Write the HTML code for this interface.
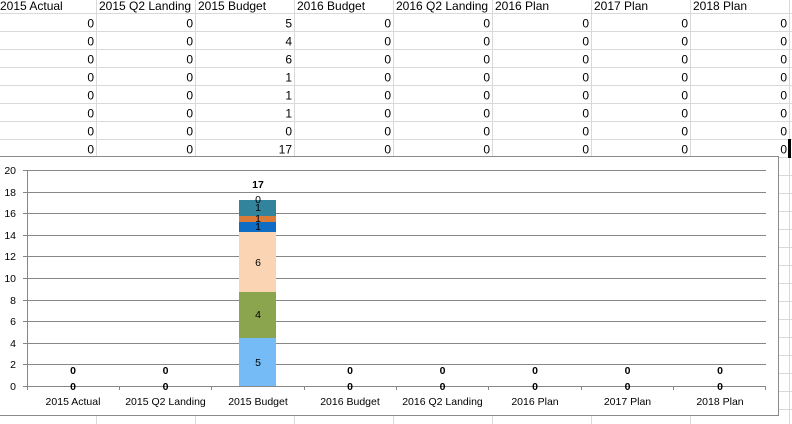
<!DOCTYPE html>
<html><head><meta charset="utf-8"><style>
html,body{margin:0;padding:0;background:#fff;}
svg{display:block;}
text{font-family:"Liberation Sans",Arial,sans-serif;}
</style></head><body>
<svg width="792" height="424" viewBox="0 0 792 424" xmlns="http://www.w3.org/2000/svg">
<rect width="792" height="424" fill="#fff"/>
<!-- sheet gridlines -->
<g stroke="#d9d9d9" stroke-width="1" shape-rendering="crispEdges">
<line x1="0" y1="13.5" x2="792" y2="13.5"/>
<line x1="0" y1="31.5" x2="792" y2="31.5"/>
<line x1="0" y1="49.5" x2="792" y2="49.5"/>
<line x1="0" y1="67.5" x2="792" y2="67.5"/>
<line x1="0" y1="85.5" x2="792" y2="85.5"/>
<line x1="0" y1="103.5" x2="792" y2="103.5"/>
<line x1="0" y1="121.5" x2="792" y2="121.5"/>
<line x1="0" y1="139.5" x2="792" y2="139.5"/>
<line x1="0" y1="157.5" x2="792" y2="157.5"/>
<line x1="0" y1="175.5" x2="792" y2="175.5"/>
<line x1="0" y1="193.5" x2="792" y2="193.5"/>
<line x1="0" y1="211.5" x2="792" y2="211.5"/>
<line x1="0" y1="229.5" x2="792" y2="229.5"/>
<line x1="0" y1="247.5" x2="792" y2="247.5"/>
<line x1="0" y1="265.5" x2="792" y2="265.5"/>
<line x1="0" y1="283.5" x2="792" y2="283.5"/>
<line x1="0" y1="301.5" x2="792" y2="301.5"/>
<line x1="0" y1="319.5" x2="792" y2="319.5"/>
<line x1="0" y1="337.5" x2="792" y2="337.5"/>
<line x1="0" y1="355.5" x2="792" y2="355.5"/>
<line x1="0" y1="373.5" x2="792" y2="373.5"/>
<line x1="0" y1="391.5" x2="792" y2="391.5"/>
<line x1="0" y1="409.5" x2="792" y2="409.5"/>
<line x1="96.5" y1="0" x2="96.5" y2="424"/>
<line x1="195.5" y1="0" x2="195.5" y2="424"/>
<line x1="294.5" y1="0" x2="294.5" y2="424"/>
<line x1="393.5" y1="0" x2="393.5" y2="424"/>
<line x1="492.5" y1="0" x2="492.5" y2="424"/>
<line x1="591.5" y1="0" x2="591.5" y2="424"/>
<line x1="690.5" y1="0" x2="690.5" y2="424"/>
<line x1="789.5" y1="0" x2="789.5" y2="424"/>
</g>
<!-- header -->
<g font-size="12" fill="#000">
<text x="0" y="10">2015 Actual</text>
<text x="99" y="10">2015 Q2 Landing</text>
<text x="198" y="10">2015 Budget</text>
<text x="297" y="10">2016 Budget</text>
<text x="396" y="10">2016 Q2 Landing</text>
<text x="495" y="10">2016 Plan</text>
<text x="594" y="10">2017 Plan</text>
<text x="693" y="10">2018 Plan</text>
</g>
<!-- numbers -->
<g font-size="12" fill="#000" text-anchor="end">
<g id="r1"><text x="94" y="27.5">0</text><text x="193" y="27.5">0</text><text x="292" y="27.5">5</text><text x="391" y="27.5">0</text><text x="490" y="27.5">0</text><text x="589" y="27.5">0</text><text x="688" y="27.5">0</text><text x="787" y="27.5">0</text></g>
<g transform="translate(0,18)"><text x="94" y="27.5">0</text><text x="193" y="27.5">0</text><text x="292" y="27.5">4</text><text x="391" y="27.5">0</text><text x="490" y="27.5">0</text><text x="589" y="27.5">0</text><text x="688" y="27.5">0</text><text x="787" y="27.5">0</text></g>
<g transform="translate(0,36)"><text x="94" y="27.5">0</text><text x="193" y="27.5">0</text><text x="292" y="27.5">6</text><text x="391" y="27.5">0</text><text x="490" y="27.5">0</text><text x="589" y="27.5">0</text><text x="688" y="27.5">0</text><text x="787" y="27.5">0</text></g>
<g transform="translate(0,54)"><text x="94" y="27.5">0</text><text x="193" y="27.5">0</text><text x="292" y="27.5">1</text><text x="391" y="27.5">0</text><text x="490" y="27.5">0</text><text x="589" y="27.5">0</text><text x="688" y="27.5">0</text><text x="787" y="27.5">0</text></g>
<g transform="translate(0,72)"><text x="94" y="27.5">0</text><text x="193" y="27.5">0</text><text x="292" y="27.5">1</text><text x="391" y="27.5">0</text><text x="490" y="27.5">0</text><text x="589" y="27.5">0</text><text x="688" y="27.5">0</text><text x="787" y="27.5">0</text></g>
<g transform="translate(0,90)"><text x="94" y="27.5">0</text><text x="193" y="27.5">0</text><text x="292" y="27.5">1</text><text x="391" y="27.5">0</text><text x="490" y="27.5">0</text><text x="589" y="27.5">0</text><text x="688" y="27.5">0</text><text x="787" y="27.5">0</text></g>
<g transform="translate(0,108)"><text x="94" y="27.5">0</text><text x="193" y="27.5">0</text><text x="292" y="27.5">0</text><text x="391" y="27.5">0</text><text x="490" y="27.5">0</text><text x="589" y="27.5">0</text><text x="688" y="27.5">0</text><text x="787" y="27.5">0</text></g>
<g transform="translate(0,126)"><text x="94" y="27.5">0</text><text x="193" y="27.5">0</text><text x="292" y="27.5">17</text><text x="391" y="27.5">0</text><text x="490" y="27.5">0</text><text x="589" y="27.5">0</text><text x="688" y="27.5">0</text><text x="787" y="27.5">0</text></g>
</g>
<!-- selected cell marker -->
<rect x="788" y="139" width="3" height="19" fill="#000"/>
<!-- chart -->
<rect x="-1.5" y="156.5" width="780" height="259" fill="#fff" stroke="#8a8a8a" stroke-width="1"/>
<g stroke="#878787" stroke-width="1" shape-rendering="crispEdges">
<line x1="27" y1="170.5" x2="766" y2="170.5"/>
<line x1="27" y1="192.5" x2="766" y2="192.5"/>
<line x1="27" y1="213.5" x2="766" y2="213.5"/>
<line x1="27" y1="235.5" x2="766" y2="235.5"/>
<line x1="27" y1="256.5" x2="766" y2="256.5"/>
<line x1="27" y1="278.5" x2="766" y2="278.5"/>
<line x1="27" y1="300.5" x2="766" y2="300.5"/>
<line x1="27" y1="321.5" x2="766" y2="321.5"/>
<line x1="27" y1="343.5" x2="766" y2="343.5"/>
<line x1="27" y1="364.5" x2="766" y2="364.5"/>
</g>
<!-- bar -->
<g shape-rendering="crispEdges">
<rect x="239" y="338" width="37" height="48" fill="#75BBF6"/>
<rect x="239" y="292" width="37" height="46" fill="#8AA54E"/>
<rect x="239" y="232" width="37" height="60" fill="#FBD4B4"/>
<rect x="239" y="222" width="37" height="10" fill="#0F6EC4"/>
<rect x="239" y="216" width="37" height="6" fill="#DB7B3A"/>
<rect x="239" y="200" width="37" height="16" fill="#31849B"/>
</g>
<!-- axes -->
<g stroke="#878787" stroke-width="1" shape-rendering="crispEdges">
<line x1="27.5" y1="170" x2="27.5" y2="390"/>
<line x1="23" y1="386.5" x2="766" y2="386.5"/>
<line x1="23" y1="170.5" x2="27" y2="170.5"/>
<line x1="23" y1="192.5" x2="27" y2="192.5"/>
<line x1="23" y1="213.5" x2="27" y2="213.5"/>
<line x1="23" y1="235.5" x2="27" y2="235.5"/>
<line x1="23" y1="256.5" x2="27" y2="256.5"/>
<line x1="23" y1="278.5" x2="27" y2="278.5"/>
<line x1="23" y1="300.5" x2="27" y2="300.5"/>
<line x1="23" y1="321.5" x2="27" y2="321.5"/>
<line x1="23" y1="343.5" x2="27" y2="343.5"/>
<line x1="23" y1="364.5" x2="27" y2="364.5"/>
<line x1="119.5" y1="386" x2="119.5" y2="390"/>
<line x1="211.5" y1="386" x2="211.5" y2="390"/>
<line x1="304.5" y1="386" x2="304.5" y2="390"/>
<line x1="396.5" y1="386" x2="396.5" y2="390"/>
<line x1="488.5" y1="386" x2="488.5" y2="390"/>
<line x1="581.5" y1="386" x2="581.5" y2="390"/>
<line x1="673.5" y1="386" x2="673.5" y2="390"/>
<line x1="765.5" y1="386" x2="765.5" y2="390"/>
</g>
<!-- y labels -->
<g font-size="10.5" fill="#000" text-anchor="end">
<text x="16" y="174">20</text>
<text x="16" y="196">18</text>
<text x="16" y="217">16</text>
<text x="16" y="239">14</text>
<text x="16" y="260">12</text>
<text x="16" y="282">10</text>
<text x="16" y="304">8</text>
<text x="16" y="325">6</text>
<text x="16" y="347">4</text>
<text x="16" y="368">2</text>
<text x="16" y="390">0</text>
</g>
<!-- x labels -->
<g font-size="10.5" fill="#000" text-anchor="middle">
<text x="73" y="405">2015 Actual</text>
<text x="165.5" y="405">2015 Q2 Landing</text>
<text x="258" y="405">2015 Budget</text>
<text x="350" y="405">2016 Budget</text>
<text x="442.5" y="405">2016 Q2 Landing</text>
<text x="535" y="405">2016 Plan</text>
<text x="627.5" y="405">2017 Plan</text>
<text x="720" y="405">2018 Plan</text>
</g>
<!-- data labels -->
<g font-size="10.5" fill="#000" text-anchor="middle" font-weight="bold">
<text x="258" y="188">17</text>
<text x="73" y="374">0</text><text x="73" y="390">0</text>
<text x="165.5" y="374">0</text><text x="165.5" y="390">0</text>
<text x="350" y="374">0</text><text x="350" y="390">0</text>
<text x="442.5" y="374">0</text><text x="442.5" y="390">0</text>
<text x="535" y="374">0</text><text x="535" y="390">0</text>
<text x="627.5" y="374">0</text><text x="627.5" y="390">0</text>
<text x="720" y="374">0</text><text x="720" y="390">0</text>
</g>
<g font-size="10.5" fill="#000" text-anchor="middle">
<text x="258" y="203">0</text>
<text x="258" y="211">1</text>
<text x="258" y="222">1</text>
<text x="258" y="230">1</text>
<text x="258" y="266">6</text>
<text x="258" y="318">4</text>
<text x="258" y="366">5</text>
</g>
</svg>
</body></html>
